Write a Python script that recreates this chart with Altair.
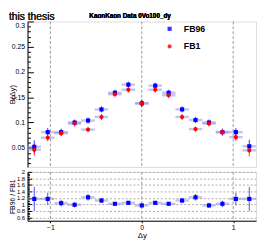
import altair as alt
import pandas as pd

# bin centres and edges (Δy)
dy = [-1.176, -1.029, -0.882, -0.735, -0.588, -0.441, -0.294, -0.147, 0.0,
      0.147, 0.294, 0.441, 0.588, 0.735, 0.882, 1.029, 1.176]
bin_lo = [-1.25, -1.103, -0.956, -0.809, -0.662, -0.515, -0.368, -0.221, -0.074,
          0.074, 0.221, 0.368, 0.515, 0.662, 0.809, 0.956, 1.103]
bin_hi = [-1.103, -0.956, -0.809, -0.662, -0.515, -0.368, -0.221, -0.074, 0.074,
          0.221, 0.368, 0.515, 0.662, 0.809, 0.956, 1.103, 1.25]

fb96 = [0.052, 0.081, 0.081, 0.100, 0.104, 0.126, 0.159, 0.175, 0.138,
        0.173, 0.159, 0.126, 0.105, 0.100, 0.081, 0.081, 0.053]
fb96_err = [0.013, 0.008, 0.007, 0.006, 0.006, 0.006, 0.006, 0.006, 0.007,
            0.006, 0.006, 0.006, 0.006, 0.006, 0.007, 0.008, 0.013]
fb1 = [0.046, 0.070, 0.079, 0.098, 0.086, 0.111, 0.156, 0.165, 0.138,
       0.165, 0.154, 0.111, 0.087, 0.098, 0.081, 0.071, 0.045]
fb1_err = [0.012, 0.007, 0.006, 0.006, 0.005, 0.006, 0.006, 0.006, 0.007,
           0.006, 0.006, 0.006, 0.005, 0.006, 0.006, 0.007, 0.012]

ratio = [1.17, 1.17, 1.04, 0.99, 1.22, 1.12, 1.02, 1.05, 0.97,
         1.05, 1.02, 1.12, 1.22, 0.97, 1.02, 1.17, 1.17]
ratio_err = [0.37, 0.19, 0.10, 0.08, 0.10, 0.08, 0.05, 0.05, 0.05,
             0.05, 0.05, 0.08, 0.10, 0.08, 0.10, 0.19, 0.37]

series = ["FB96", "FB1"]
colors = ["#0000ff", "#ff0000"]
shapes = ["square", "circle"]
vlines = [-1, 0, 1]
top_ticks = [0.05, 0.1, 0.15, 0.2, 0.25, 0.3]
top_minor = [0.02, 0.03, 0.04, 0.06, 0.07, 0.08, 0.09, 0.11, 0.12, 0.13, 0.14,
             0.16, 0.17, 0.18, 0.19, 0.21, 0.22, 0.23, 0.24, 0.26, 0.27, 0.28, 0.29]
ratio_ticks = [0.6, 0.8, 1.0, 1.2, 1.4, 1.6, 1.8, 2.0]
ratio_minor = [0.55, 0.65, 0.7, 0.75, 0.85, 0.9, 0.95, 1.05, 1.1, 1.15, 1.25, 1.3,
               1.35, 1.45, 1.5, 1.55, 1.65, 1.7, 1.75, 1.85, 1.9, 1.95]
x_ticks = [-1, 0, 1]

rows = []
for name, vals, errs in (("FB96", fb96, fb96_err), ("FB1", fb1, fb1_err)):
    for x, lo, hi, v, e in zip(dy, bin_lo, bin_hi, vals, errs):
        rows.append(dict(series=name, x=x, lo=lo, hi=hi, y=v, ylo=v - e, yhi=v + e))
top_df = pd.DataFrame(rows)
ratio_df = pd.DataFrame(dict(x=dy, lo=bin_lo, hi=bin_hi, y=ratio,
                             ylo=[r - e for r, e in zip(ratio, ratio_err)],
                             yhi=[r + e for r, e in zip(ratio, ratio_err)]))
vline_df = pd.DataFrame(dict(x=vlines))

W = 234
FONT = "Liberation Sans"
xscale = alt.Scale(domain=[-1.25, 1.25], nice=False, zero=False)
yscale_top = alt.Scale(domain=[0.012, 0.3], nice=False, zero=False)
yscale_rat = alt.Scale(domain=[0.5, 2.0], nice=False, zero=False)
color_scale = alt.Scale(domain=series, range=colors)
shape_scale = alt.Scale(domain=series, range=shapes)

legend = alt.Legend(title=None, orient="none", legendX=141, legendY=3,
                    symbolSize=18, labelFontSize=9, labelFontWeight="bold",
                    labelFont=FONT, labelOffset=10, rowPadding=8,
                    padding=0, symbolStrokeWidth=0)

x_bottom_axis = alt.Axis(values=x_ticks, format="~g", title="Δy", grid=False, tickSize=2,
                         labelFontSize=7, labelFont=FONT, labelPadding=1,
                         titleFont=FONT, titleFontSize=8, titleFontWeight="normal",
                         titlePadding=1, domainColor="#000000", tickColor="#000000")


def inward_ticks(df, scale, values, size, xaxis):
    return alt.Chart(df).mark_point(opacity=0).encode(
        x=alt.X("x:Q", scale=xscale, axis=xaxis),
        y=alt.Y("y:Q", scale=scale,
                axis=alt.Axis(orient="right", offset=-W, values=values, labels=False,
                              domain=False, grid=False, tickSize=size, title=None,
                              tickColor="#000000", tickWidth=1)))


# ---------- top panel ----------
vl_top = alt.Chart(vline_df).mark_rule(color="#999999", strokeDash=[3, 2], strokeWidth=1).encode(
    x=alt.X("x:Q", scale=xscale, axis=None)
)
hbar_top = alt.Chart(top_df).mark_rule(strokeWidth=2.5, color="#8c8ce0", opacity=0.5).encode(
    x=alt.X("lo:Q", scale=xscale, axis=None), x2="hi:Q",
    y=alt.Y("y:Q", scale=yscale_top, axis=None)
)
vbar_top = alt.Chart(top_df).mark_rule(strokeWidth=1, opacity=0.8).encode(
    x=alt.X("x:Q", scale=xscale, axis=None),
    y=alt.Y("ylo:Q", scale=yscale_top, axis=None), y2="yhi:Q",
    color=alt.Color("series:N", scale=color_scale, legend=legend)
)
pts_top = alt.Chart(top_df).mark_point(filled=True, size=18, opacity=1).encode(
    x=alt.X("x:Q", scale=xscale, axis=None),
    y=alt.Y("y:Q", scale=yscale_top,
            axis=alt.Axis(values=top_ticks, format="~g", title="B(Δy)", grid=False,
                          tickSize=0, labelPadding=3, labelFontSize=7, labelFont=FONT,
                          labelOverlap=False, labelFlush=True,
                          titleFont=FONT, titleFontSize=8, titleFontWeight="normal",
                          titleX=-15, titleBaseline="middle", domainColor="#000000")),
    color=alt.Color("series:N", scale=color_scale, legend=legend),
    shape=alt.Shape("series:N", scale=shape_scale, legend=legend),
)
this_thesis = alt.Chart(vline_df).mark_text(
    text="this thesis", align="left", baseline="alphabetic", fontSize=10.5, font=FONT,
    color="#222222"
).encode(x=alt.value(-19), y=alt.value(-2))
title_txt = alt.Chart(vline_df).mark_text(
    text="KaonKaon Data 0Vo100_dy", align="center", baseline="alphabetic", fontSize=6.5,
    font=FONT, fontWeight="bold", color="#000000"
).encode(x=alt.value(105), y=alt.value(-4))

top = alt.layer(vl_top, hbar_top, vbar_top,
                inward_ticks(top_df, yscale_top, top_minor, 3, None),
                inward_ticks(top_df, yscale_top, top_ticks, 6, None),
                pts_top, this_thesis, title_txt).resolve_axis(y="independent").properties(
    width=W, height=149)

# ---------- ratio panel ----------
vl_bot = alt.Chart(vline_df).mark_rule(color="#999999", strokeDash=[3, 2], strokeWidth=1).encode(
    x=alt.X("x:Q", scale=xscale, axis=x_bottom_axis)
)
hbar_bot = alt.Chart(ratio_df).mark_rule(strokeWidth=2.5, color="#8c8ce0", opacity=0.5).encode(
    x=alt.X("lo:Q", scale=xscale, axis=x_bottom_axis), x2="hi:Q",
    y=alt.Y("y:Q", scale=yscale_rat, axis=None)
)
vbar_bot = alt.Chart(ratio_df).mark_rule(strokeWidth=1, color="#0000ff", opacity=0.7).encode(
    x=alt.X("x:Q", scale=xscale, axis=x_bottom_axis),
    y=alt.Y("ylo:Q", scale=yscale_rat, axis=None), y2="yhi:Q",
)
pts_bot = alt.Chart(ratio_df).mark_point(filled=True, size=18, shape="square",
                                         color="#0000ff", opacity=1).encode(
    x=alt.X("x:Q", scale=xscale, axis=x_bottom_axis),
    y=alt.Y("y:Q", scale=yscale_rat,
            axis=alt.Axis(values=ratio_ticks, format="~g", title="FB96 / FB1", grid=True,
                          gridDash=[2, 2], gridColor="#aaaaaa", gridWidth=1,
                          tickSize=0, labelPadding=3, labelFontSize=6, labelFont=FONT,
                          labelOverlap=False,
                          titleFont=FONT, titleFontSize=7, titleFontWeight="normal",
                          titleX=-15, titleBaseline="middle", domainColor="#000000")),
)
bottom = alt.layer(vl_bot, hbar_bot, vbar_bot,
                   inward_ticks(ratio_df, yscale_rat, ratio_minor, 2, x_bottom_axis),
                   inward_ticks(ratio_df, yscale_rat, ratio_ticks, 4, x_bottom_axis),
                   pts_bot).resolve_axis(y="independent").properties(width=W, height=50)

chart = alt.vconcat(top, bottom, spacing=0).properties(
    padding={"left": 0, "top": 0, "right": 0, "bottom": 0}
).configure_view(stroke="#555555", strokeWidth=1).configure(background="white")

chart.save("out.html", embed_options={"renderer": "svg", "actions": False})
